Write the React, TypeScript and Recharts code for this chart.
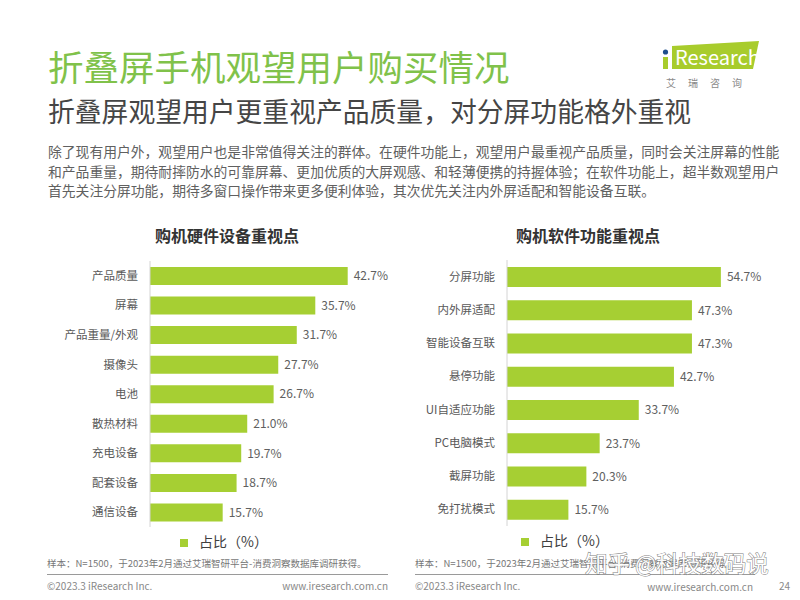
import { Bar, BarChart, LabelList, Legend, XAxis, YAxis } from "recharts";

const hardwareCategories = ["产品质量", "屏幕", "产品重量/外观", "摄像头", "电池", "散热材料", "充电设备", "配套设备", "通信设备"];
const hardwareValues = [42.7, 35.7, 31.7, 27.7, 26.7, 21.0, 19.7, 18.7, 15.7];

const softwareCategories = ["分屏功能", "内外屏适配", "智能设备互联", "悬停功能", "UI自适应功能", "PC电脑模式", "截屏功能", "免打扰模式"];
const softwareValues = [54.7, 47.3, 47.3, 42.7, 33.7, 23.7, 20.3, 15.7];

const seriesName = "占比（%）";
const barGreen = "#a6cf33";
const font = '"Noto Sans CJK SC", "Noto Sans", sans-serif';

const sampleNote = "样本：N=1500，于2023年2月通过艾瑞智研平台-消费洞察数据库调研获得。";

interface PanelProps {
  categories: string[];
  values: number[];
  maxX: number;
  axisWidth: number;
  rightMargin: number;
  barSize: number;
  legendLeft: number;
}

function HBarPanel({ categories, values, maxX, axisWidth, rightMargin, barSize, legendLeft }: PanelProps) {
  const data = categories.map((name, i) => ({ name, value: values[i] }));
  return (
    <BarChart
      width={400}
      height={301}
      layout="vertical"
      data={data}
      margin={{ top: 6, right: rightMargin, bottom: 29, left: 0 }}
      barCategoryGap={0}
    >
      <XAxis type="number" domain={[0, maxX]} hide />
      <YAxis
        type="category"
        dataKey="name"
        width={axisWidth}
        interval={0}
        axisLine={{ stroke: "#d4d4d4" }}
        tickLine={false}
        tickMargin={6}
        tick={{ fill: "#595959", fontSize: 11.5 }}
      />
      <Legend
        layout="horizontal"
        verticalAlign="middle"
        align="center"
        iconType="square"
        iconSize={8}
        wrapperStyle={{ top: 276, left: legendLeft, width: 200, lineHeight: "18px" }}
        formatter={(v) => <span style={{ color: "#404040", fontSize: 14, marginLeft: 7 }}>{v}</span>}
      />
      <Bar dataKey="value" name={seriesName} fill={barGreen} barSize={barSize} isAnimationActive={false}>
        <LabelList
          dataKey="value"
          position="right"
          offset={6}
          fill="#606060"
          fontSize={12}
          formatter={(v: number) => `${v.toFixed(1)}%`}
        />
      </Bar>
    </BarChart>
  );
}

const abs = (left: number, top: number, extra: React.CSSProperties = {}): React.CSSProperties => ({
  position: "absolute",
  left,
  top,
  whiteSpace: "nowrap",
  ...extra,
});

export default function App() {
  return (
    <div
      style={{
        position: "absolute",
        left: 0,
        top: 0,
        width: 800,
        height: 600,
        background: "#fff",
        overflow: "hidden",
        fontFamily: font,
      }}
    >
      <div style={abs(48, 48, { fontSize: 35.5, lineHeight: "36px", color: "#80c24a" })}>折叠屏手机观望用户购买情况</div>
      <div style={abs(48, 97, { fontSize: 26.8, lineHeight: "27px", color: "#454545" })}>
        折叠屏观望用户更重视产品质量，对分屏功能格外重视
      </div>

      {/* logo */}
      <svg style={{ position: "absolute", left: 650, top: 36 }} width={120} height={60}>
        <polygon points="22,10 109,5 103,33 22,33" fill="#a8cc2c" />
        <rect x={13} y={21} width={5} height={12} fill="#a8cc2c" />
        <circle cx={15.5} cy={16} r={2.6} fill="#1f4e8c" />
        <text x={25} y={29} fill="#fff" fontSize={20} fontFamily={font}>
          Research
        </text>
        <text x={60} y={51} fill="#8a8a8a" fontSize={10} textAnchor="middle" letterSpacing={12} fontFamily={font}>
          艾瑞咨询
        </text>
      </svg>

      <div style={abs(48, 142, { fontSize: 13.8, lineHeight: "19.5px", color: "#606060" })}>
        除了现有用户外，观望用户也是非常值得关注的群体。在硬件功能上，观望用户最重视产品质量，同时会关注屏幕的性能
        <br />
        和产品重量，期待耐摔防水的可靠屏幕、更加优质的大屏观感、和轻薄便携的持握体验；在软件功能上，超半数观望用户
        <br />
        首先关注分屏功能，期待多窗口操作带来更多便利体验，其次优先关注内外屏适配和智能设备互联。
      </div>

      <div style={abs(127, 225, { width: 200, textAlign: "center", fontSize: 16, fontWeight: 700, color: "#333", lineHeight: "20px" })}>
        购机硬件设备重视点
      </div>
      <div style={abs(488, 225, { width: 200, textAlign: "center", fontSize: 16, fontWeight: 700, color: "#333", lineHeight: "20px" })}>
        购机软件功能重视点
      </div>

      <div style={abs(0, 255)}>
        <HBarPanel
          categories={hardwareCategories}
          values={hardwareValues}
          maxX={50}
          axisWidth={150}
          rightMargin={18.5}
          barSize={18}
          legendLeft={129}
        />
      </div>
      <div style={abs(400, 254)}>
        <HBarPanel
          categories={softwareCategories}
          values={softwareValues}
          maxX={60}
          axisWidth={107}
          rightMargin={58.4}
          barSize={20}
          legendLeft={70}
        />
      </div>

      {/* footers */}
      <div style={abs(47, 557, { fontSize: 9.5, lineHeight: "12px", color: "#777" })}>{sampleNote}</div>
      <div style={abs(415, 557, { fontSize: 9.5, lineHeight: "12px", color: "#777" })}>{sampleNote}</div>
      <div style={abs(47, 574, { width: 341, borderTop: "1px solid #9a9a9a" })} />
      <div style={abs(415, 574, { width: 340, borderTop: "1px solid #9a9a9a" })} />
      <div style={abs(47, 580, { fontSize: 10, lineHeight: "12px", color: "#888" })}>©2023.3 iResearch Inc.</div>
      <div style={abs(228, 580, { width: 160, textAlign: "right", fontSize: 10, lineHeight: "12px", color: "#888" })}>
        www.iresearch.com.cn
      </div>
      <div style={abs(415, 580, { fontSize: 10, lineHeight: "12px", color: "#888" })}>©2023.3 iResearch Inc.</div>
      <div style={abs(593, 581, { width: 160, textAlign: "right", fontSize: 10, lineHeight: "12px", color: "#888" })}>
        www.iresearch.com.cn
      </div>
      <div style={abs(760, 580, { width: 30, textAlign: "right", fontSize: 10, lineHeight: "12px", color: "#888" })}>24</div>

      {/* watermark */}
      <svg style={{ position: "absolute", left: 580, top: 546, overflow: "visible" }} width={215} height={34}>
        <text
          x={5}
          y={26}
          fontSize={22.5}
          fontFamily={font}
          fill="#fff"
          stroke="#6f6f6f"
          strokeWidth={1}
          paintOrder="stroke"
          opacity={0.9}
        >
          知乎 @科技数码说
        </text>
      </svg>
    </div>
  );
}
